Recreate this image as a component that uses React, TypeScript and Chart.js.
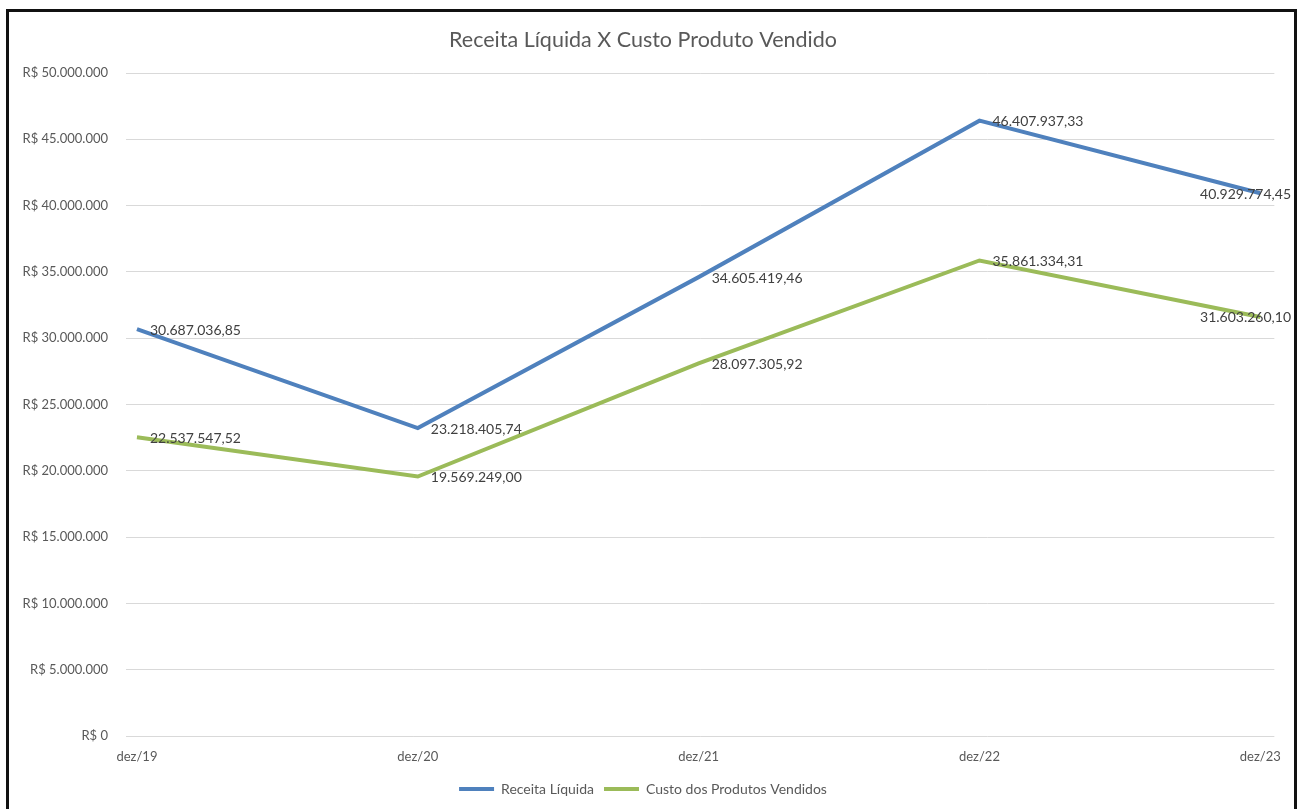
import React, { useEffect, useRef } from "react";
import { Chart, registerables } from "chart.js";

Chart.register(...registerables);

const categories = ["dez/19", "dez/20", "dez/21", "dez/22", "dez/23"];
const receitaLiquida = [30687036.85, 23218405.74, 34605419.46, 46407937.33, 40929774.45];
const custoProdutos = [22537547.52, 19569249.0, 28097305.92, 35861334.31, 31603260.1];
const seriesNames = ["Receita Líquida", "Custo dos Produtos Vendidos"];
const titleText = "Receita Líquida X Custo Produto Vendido";
const yMax = 50000000;
const yStep = 5000000;

const FONT = "Lato, 'Noto Sans', sans-serif";

function groupThousands(s: string) {
  return s.replace(/\B(?=(\d{3})+(?!\d))/g, ".");
}
function fmtAxis(v: number) {
  return "R$ " + groupThousands(Math.round(v).toString());
}
function fmtValue(v: number) {
  const [i, d] = v.toFixed(2).split(".");
  return groupThousands(i) + "," + d;
}

const dataLabelPlugin = {
  id: "dataLabels",
  afterDatasetsDraw(chart: any) {
    const ctx = chart.ctx;
    ctx.save();
    ctx.font = `14px ${FONT}`;
    ctx.fillStyle = "#404040";
    ctx.textBaseline = "middle";
    ctx.textAlign = "left";
    const maxRight = chart.width - 3;
    chart.data.datasets.forEach((ds: any, di: number) => {
      const meta = chart.getDatasetMeta(di);
      meta.data.forEach((pt: any, i: number) => {
        const text = fmtValue(ds.data[i].y);
        const w = ctx.measureText(text).width;
        let x = pt.x + 13;
        if (x + w > maxRight) x = maxRight - w;
        ctx.fillText(text, x, pt.y + 1);
      });
    });
    ctx.restore();
  },
};

export default function App() {
  const ref = useRef<HTMLCanvasElement>(null);
  useEffect(() => {
    if (!ref.current) return;
    const chart = new Chart(ref.current, {
      type: "line",
      data: {
        datasets: [
          {
            label: seriesNames[0],
            data: receitaLiquida.map((v, i) => ({ x: i, y: v })),
            borderColor: "#4F81BD",
            backgroundColor: "#4F81BD",
            borderWidth: 4,
            pointRadius: 0,
            borderJoinStyle: "miter",
            tension: 0,
          },
          {
            label: seriesNames[1],
            data: custoProdutos.map((v, i) => ({ x: i, y: v })),
            borderColor: "#9BBB59",
            backgroundColor: "#9BBB59",
            borderWidth: 4,
            pointRadius: 0,
            borderJoinStyle: "miter",
            tension: 0,
          },
        ],
      },
      options: {
        animation: false,
        responsive: true,
        maintainAspectRatio: false,
        layout: { padding: { left: 0, right: 17, top: 0, bottom: 3 } },
        scales: {
          x: {
            type: "linear",
            min: -0.039,
            max: 4.05,
            grid: { display: false, drawTicks: false },
            border: { display: false },
            afterBuildTicks: (scale: any) => {
              scale.ticks = categories.map((_, i) => ({ value: i }));
            },
            afterFit: (scale: any) => {
              scale.height = 36;
            },
            ticks: {
              autoSkip: false,
              maxRotation: 0,
              padding: 13,
              color: "#595959",
              font: { family: FONT, size: 13 },
              callback: (v: any) => categories[Math.round(Number(v))] ?? "",
            },
          },
          y: {
            min: 0,
            max: yMax,
            grid: { color: "#D9D9D9", lineWidth: 1, drawTicks: false },
            border: { display: false },
            afterFit: (scale: any) => {
              scale.width = 117;
            },
            ticks: {
              stepSize: yStep,
              padding: 18,
              color: "#595959",
              font: { family: FONT, size: 13 },
              callback: (v: any) => fmtAxis(Number(v)),
            },
          },
        },
        plugins: {
          title: {
            display: true,
            text: titleText,
            color: "#595959",
            font: { family: FONT, size: 21.5, weight: "normal" },
            padding: { top: 15, bottom: 20.2 },
          },
          legend: {
            position: "bottom",
            labels: {
              usePointStyle: true,
              pointStyle: "line",
              pointStyleWidth: 35,
              boxHeight: 4,
              color: "#595959",
              font: { family: FONT, size: 14 },
              padding: 10,
            },
          },
          tooltip: { enabled: false },
        },
      } as any,
      plugins: [dataLabelPlugin],
    });
    return () => chart.destroy();
  }, []);

  return (
    <div
      style={{
        position: "absolute",
        left: 6,
        top: 9,
        width: 1291,
        height: 800,
        border: "3px solid #111",
        borderBottom: "none",
        boxSizing: "border-box",
        background: "#fff",
      }}
    >
      <canvas ref={ref} />
    </div>
  );
}
